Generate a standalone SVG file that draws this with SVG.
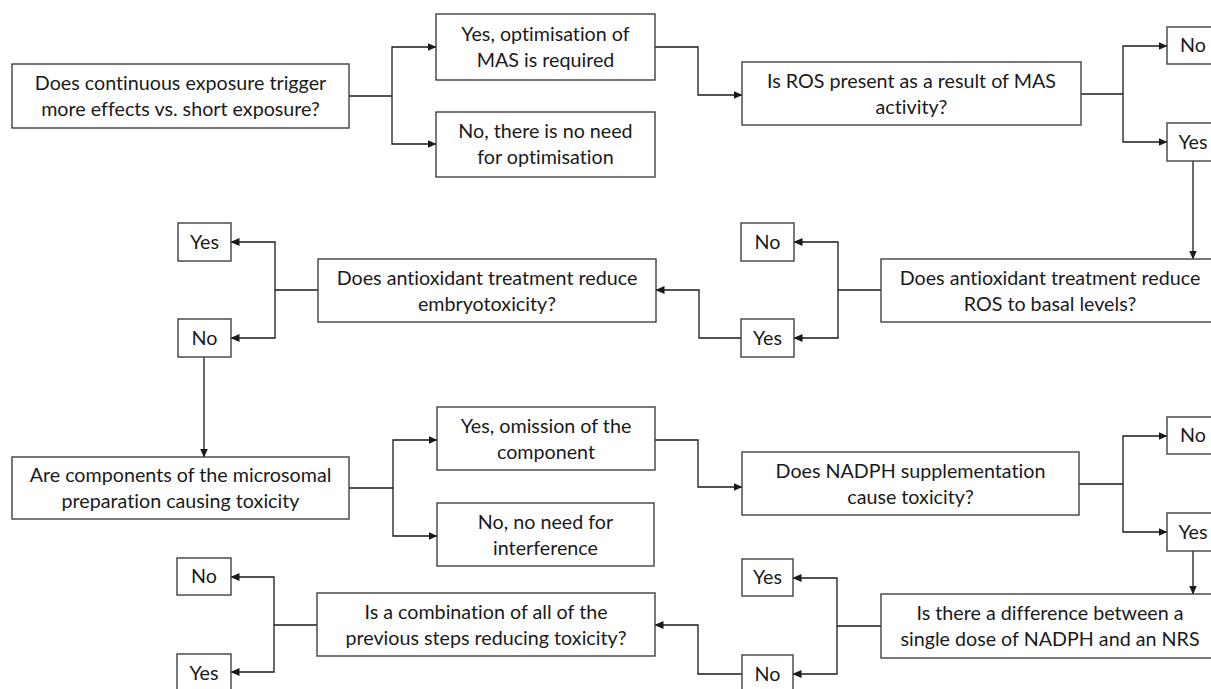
<svg xmlns="http://www.w3.org/2000/svg" width="1211" height="689" viewBox="0 0 1211 689">
<style>
.box{fill:#fff;stroke:#404040;stroke-width:1.4}
.t{font-family:Lato,"Liberation Sans",sans-serif;font-size:19.7px;fill:#1a1a1a;text-anchor:middle;font-variant-ligatures:none}
.c{fill:none;stroke:#1a1a1a;stroke-width:1.3}
.a{marker-end:url(#ah)}
</style>
<defs>
<marker id="ah" markerUnits="userSpaceOnUse" markerWidth="9" markerHeight="8" refX="8.5" refY="4" orient="auto"><path d="M0,0 L9,4 L0,8 z" fill="#1a1a1a"/></marker>
</defs>
<rect width="1211" height="689" fill="#fff"/>
<g id="connectors">
<path class="c" d="M349,96 H392"/>
<path class="c a" d="M392,96 V47 H436"/>
<path class="c a" d="M392,96 V144 H436"/>
<path class="c a" d="M655,47 H698 V95 H742"/>
<path class="c" d="M1081,94 H1123"/>
<path class="c a" d="M1123,94 V46 H1167"/>
<path class="c a" d="M1123,94 V142 H1167"/>
<path class="c a" d="M1193,161 V259"/>
<path class="c" d="M881,290 H838"/>
<path class="c a" d="M838,290 V242 H794"/>
<path class="c a" d="M838,290 V338 H794"/>
<path class="c a" d="M741,338 H699 V290 H656"/>
<path class="c" d="M318,290 H275"/>
<path class="c a" d="M275,290 V242 H231"/>
<path class="c a" d="M275,290 V338 H231"/>
<path class="c a" d="M204,357 V457"/>
<path class="c" d="M349,488 H393"/>
<path class="c a" d="M393,488 V440 H437"/>
<path class="c a" d="M393,488 V536 H437"/>
<path class="c a" d="M655,440 H698 V487 H742"/>
<path class="c" d="M1079,484 H1123"/>
<path class="c a" d="M1123,484 V436 H1167"/>
<path class="c a" d="M1123,484 V532 H1167"/>
<path class="c a" d="M1193,551 V594"/>
<path class="c" d="M881,626 H837"/>
<path class="c a" d="M837,626 V578 H793"/>
<path class="c a" d="M837,626 V674 H793"/>
<path class="c a" d="M742,674 H698 V625 H655"/>
<path class="c" d="M317,625 H274"/>
<path class="c a" d="M274,625 V577 H231"/>
<path class="c a" d="M274,625 V672 H231"/>
</g>
<g id="n1"><rect class="box" x="12" y="64" width="337" height="64"/><text class="t" x="180.5" y="90">Does continuous exposure trigger</text><text class="t" x="180.5" y="116">more effects vs. short exposure?</text></g>
<g id="n2"><rect class="box" x="436" y="14" width="219" height="66"/><text class="t" x="545.5" y="41">Yes, optimisation of</text><text class="t" x="545.5" y="67">MAS is required</text></g>
<g id="n3"><rect class="box" x="436" y="112" width="219" height="65"/><text class="t" x="545.5" y="138">No, there is no need</text><text class="t" x="545.5" y="164">for optimisation</text></g>
<g id="n4"><rect class="box" x="742" y="62" width="339" height="63"/><text class="t" x="911.5" y="88">Is ROS present as a result of MAS</text><text class="t" x="911.5" y="114">activity?</text></g>
<g id="n5"><rect class="box" x="1167" y="27" width="52" height="37"/><text class="t" x="1193" y="52">No</text></g>
<g id="n6"><rect class="box" x="1167" y="123" width="52" height="38"/><text class="t" x="1193" y="149">Yes</text></g>
<g id="n7"><rect class="box" x="881" y="259" width="338" height="63"/><text class="t" x="1050" y="285">Does antioxidant treatment reduce</text><text class="t" x="1050" y="311">ROS to basal levels?</text></g>
<g id="n8"><rect class="box" x="741" y="223" width="53" height="38"/><text class="t" x="767.5" y="249">No</text></g>
<g id="n9"><rect class="box" x="741" y="319" width="53" height="38"/><text class="t" x="767.5" y="345">Yes</text></g>
<g id="n10"><rect class="box" x="318" y="259" width="338" height="63"/><text class="t" x="487" y="285">Does antioxidant treatment reduce</text><text class="t" x="487" y="311">embryotoxicity?</text></g>
<g id="n11"><rect class="box" x="178" y="223" width="53" height="38"/><text class="t" x="204.5" y="249">Yes</text></g>
<g id="n12"><rect class="box" x="178" y="319" width="53" height="38"/><text class="t" x="204.5" y="345">No</text></g>
<g id="n13"><rect class="box" x="12" y="457" width="337" height="62"/><text class="t" x="180.5" y="482">Are components of the microsomal</text><text class="t" x="180.5" y="508">preparation causing toxicity</text></g>
<g id="n14"><rect class="box" x="437" y="407" width="218" height="63"/><text class="t" x="546" y="433">Yes, omission of the</text><text class="t" x="546" y="459">component</text></g>
<g id="n15"><rect class="box" x="437" y="503" width="217" height="63"/><text class="t" x="545.5" y="529">No, no need for</text><text class="t" x="545.5" y="555">interference</text></g>
<g id="n16"><rect class="box" x="742" y="452" width="337" height="63"/><text class="t" x="910.5" y="478">Does NADPH supplementation</text><text class="t" x="910.5" y="504">cause toxicity?</text></g>
<g id="n17"><rect class="box" x="1167" y="417" width="52" height="37"/><text class="t" x="1193" y="442">No</text></g>
<g id="n18"><rect class="box" x="1167" y="513" width="52" height="38"/><text class="t" x="1193" y="539">Yes</text></g>
<g id="n19"><rect class="box" x="881" y="594" width="338" height="64"/><text class="t" x="1050" y="620">Is there a difference between a</text><text class="t" x="1050" y="646">single dose of NADPH and an NRS</text></g>
<g id="n20"><rect class="box" x="742" y="559" width="51" height="37"/><text class="t" x="767.5" y="584">Yes</text></g>
<g id="n21"><rect class="box" x="742" y="655" width="51" height="38"/><text class="t" x="767.5" y="681">No</text></g>
<g id="n22"><rect class="box" x="317" y="593" width="338" height="63"/><text class="t" x="486" y="619">Is a combination of all of the</text><text class="t" x="486" y="645">previous steps reducing toxicity?</text></g>
<g id="n23"><rect class="box" x="177" y="558" width="54" height="37"/><text class="t" x="204" y="583">No</text></g>
<g id="n24"><rect class="box" x="177" y="654" width="54" height="38"/><text class="t" x="204" y="680">Yes</text></g>
</svg>
